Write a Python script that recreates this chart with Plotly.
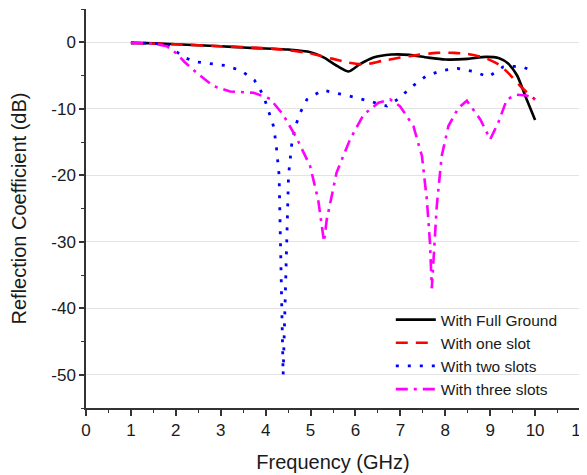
import plotly.graph_objects as go

# Full Ground
fg_x = [1.0, 1.5, 2.0, 2.5, 3.0, 3.5, 4.0, 4.5, 5.0, 5.3, 5.6, 5.85, 6.1, 6.4, 6.8, 7.2, 7.6, 8.0, 8.5, 8.9, 9.2, 9.4, 9.6, 9.8, 10.0]
fg_y = [-0.1, -0.15, -0.3, -0.45, -0.6, -0.8, -0.95, -1.1, -1.5, -2.3, -3.6, -4.4, -3.3, -2.3, -1.85, -1.9, -2.3, -2.6, -2.5, -2.2, -2.4, -3.2, -5.0, -8.4, -11.7]

# One slot
s1_x = [1.0, 2.0, 3.0, 4.0, 4.5, 5.0, 5.5, 5.8, 6.2, 6.6, 7.0, 7.4, 7.8, 8.2, 8.5, 8.9, 9.2, 9.4, 9.7, 10.0]
s1_y = [-0.1, -0.3, -0.6, -0.9, -1.2, -1.7, -2.5, -3.0, -3.35, -2.8, -2.3, -1.9, -1.6, -1.6, -1.75, -2.4, -3.4, -4.6, -6.8, -8.6]

# Two slots
s2_x = [1.0, 1.5, 1.8, 2.0, 2.2, 2.4, 2.75, 3.1, 3.45, 3.75, 3.95, 4.06, 4.17, 4.23, 4.3, 4.33, 4.36, 4.39,
        4.43, 4.47, 4.51, 4.58, 4.65, 4.77, 4.92, 5.27, 5.62, 6.0, 6.33, 6.7, 6.96, 7.25, 7.57, 7.92, 8.28,
        8.63, 8.96, 9.29, 9.67, 10.0]
s2_y = [-0.1, -0.15, -0.4, -1.3, -2.3, -2.9, -3.2, -3.5, -4.25, -5.7, -8.0, -10.1, -12.5, -15.1, -20, -30, -40, -50,
        -40, -30, -20, -15.4, -12.9, -10.6, -8.6, -7.2, -7.7, -8.3, -8.9, -9.6, -8.5, -6.7, -5.1, -4.25, -3.95,
        -4.4, -5.2, -3.7, -3.6, -4.4]

# Three slots
s3_x = [1.0, 1.5, 1.8, 2.0, 2.2, 2.5, 2.84, 3.21, 3.73, 4.1, 4.39, 4.69, 4.99, 5.17, 5.3, 5.36, 5.58, 5.88, 6.18,
        6.51, 6.77, 6.99, 7.29, 7.48, 7.59, 7.66, 7.7, 7.77, 7.81, 7.92, 8.07, 8.29, 8.48, 8.78, 9.0, 9.18, 9.37,
        9.59, 9.81, 10.0]
s3_y = [-0.1, -0.2, -0.6, -1.6, -3.0, -4.8, -6.6, -7.4, -7.6, -8.5, -10.9, -14.4, -18.6, -23.7, -30, -26.7, -19.6,
        -14.6, -10.9, -9.1, -8.6, -9.6, -12.6, -17.1, -23.7, -30.2, -37, -29.2, -24.7, -17.1, -12.6, -9.9, -8.8,
        -11.6, -14.6, -12.1, -8.6, -7.9, -8.0, -8.6]

series_names = ["With Full Ground", "With one slot", "With two slots", "With three slots"]

x_ticks = list(range(0, 12))
y_ticks = [0, -10, -20, -30, -40, -50]
y_ticktext = ["0", "-10", "-20", "-30", "-40", "-50"]

FONT = "Liberation Sans, Arial, sans-serif"

fig = go.Figure()
fig.add_trace(go.Scatter(x=fg_x, y=fg_y, mode="lines", name=series_names[0],
                         line=dict(color="black", width=2.6, shape="spline", smoothing=0.6)))
fig.add_trace(go.Scatter(x=s1_x, y=s1_y, mode="lines", name=series_names[1],
                         line=dict(color="#ff0000", width=2.6, dash="12px,8px", shape="spline", smoothing=0.6)))
fig.add_trace(go.Scatter(x=s2_x, y=s2_y, mode="lines", name=series_names[2],
                         line=dict(color="#0000ff", width=2.8, dash="3px,9px")))
fig.add_trace(go.Scatter(x=s3_x, y=s3_y, mode="lines", name=series_names[3],
                         line=dict(color="#ff00ff", width=2.6, dash="12px,6px,3px,6px")))

# The page adds an 8px body margin, so the figure is sized/offset to compensate.
fig.update_layout(
    width=579, height=467,
    margin=dict(l=78, r=7, t=1, b=67),
    paper_bgcolor="white", plot_bgcolor="white",
    font=dict(family=FONT, size=17, color="#1a1a1a"),
    showlegend=True,
    legend=dict(x=0.617, y=0.263, xanchor="left", yanchor="top", bgcolor="rgba(0,0,0,0)",
                font=dict(size=15.5, color="#1a1a1a"), itemwidth=40, tracegroupgap=0),
)
fig.update_xaxes(
    range=[0, 11], tickvals=x_ticks, ticktext=[str(v) for v in x_ticks],
    automargin=False, ticklabeloverflow="allow",
    showline=True, linecolor="#333", linewidth=1.5, mirror=False,
    ticks="outside", ticklen=6, tickwidth=1.5, tickcolor="#333",
    minor=dict(dtick=0.5, tick0=0, ticks="outside", ticklen=3, tickwidth=1.2, tickcolor="#333", showgrid=False),
    showgrid=False, zeroline=False,
    title=dict(text="Frequency (GHz)", font=dict(size=20), standoff=16),
)
fig.update_yaxes(
    range=[-55, 5], tickvals=y_ticks, ticktext=y_ticktext,
    automargin=False,
    showline=True, linecolor="#333", linewidth=1.5, mirror=False,
    ticks="outside", ticklen=5, tickwidth=1.5, tickcolor="#333",
    minor=dict(dtick=5, tick0=0, ticks="outside", ticklen=3, tickwidth=1.2, tickcolor="#333", showgrid=False),
    showgrid=True, gridcolor="#e3e3e3", gridwidth=1, zeroline=False,
    title=dict(text="Reflection Coefficient (dB)", font=dict(size=20), standoff=19),
)

fig.write_html("out.html")
